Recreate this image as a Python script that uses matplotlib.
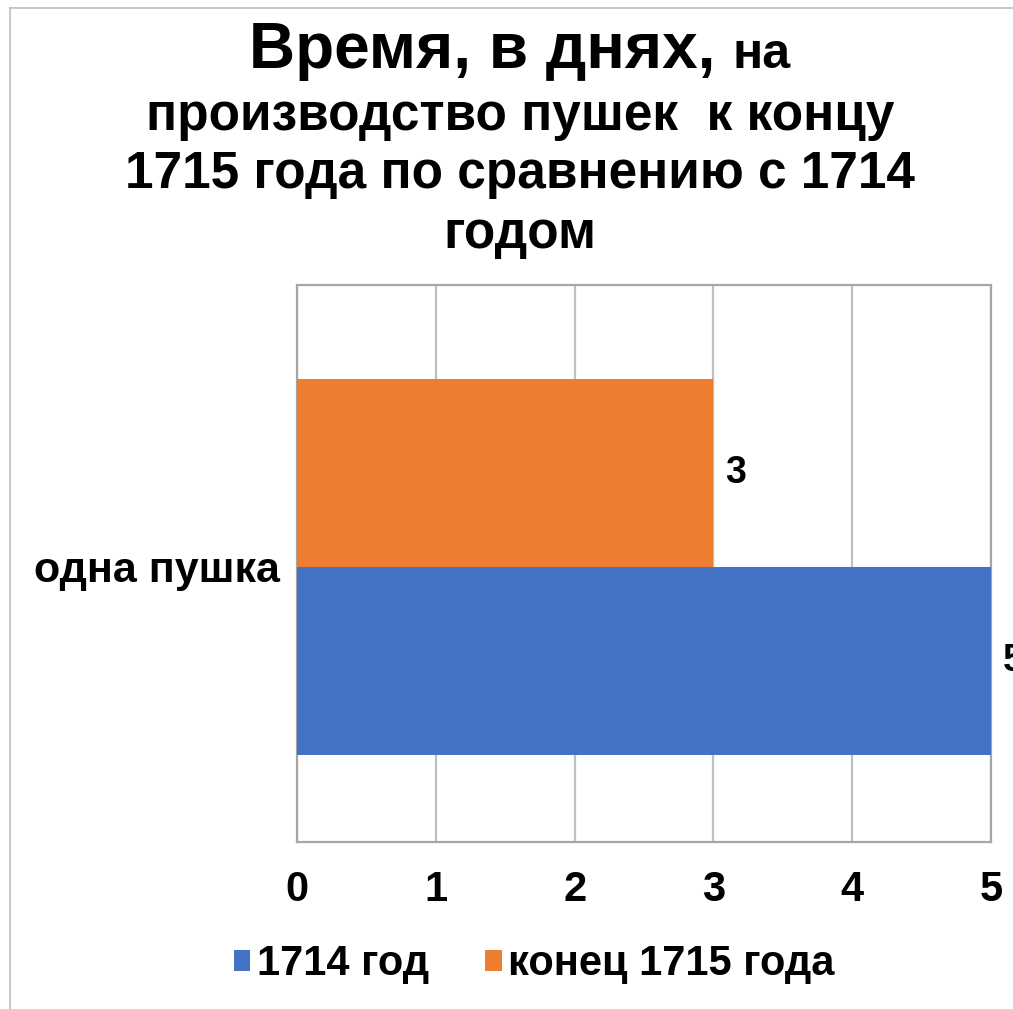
import matplotlib
matplotlib.use("Agg")
import matplotlib.pyplot as plt
from matplotlib.patches import Patch
from matplotlib.lines import Line2D

plt.rcParams['font.family'] = ['Liberation Sans', 'DejaVu Sans']

categories = ["одна пушка"]
series_names = ["1714 год", "конец 1715 года"]
values_1714 = [5]
values_1715 = [3]
x_ticks = [0, 1, 2, 3, 4, 5]
colors = ["#4472C4", "#ED7D31"]

W, H = 1013, 1009
fig = plt.figure(figsize=(W / 100, H / 100), dpi=100)

ax = fig.add_axes([297 / W, 1 - 842 / H, (991 - 297) / W, (842 - 285) / H])
bar_h = 0.3375
ax.barh([-bar_h / 2], values_1714, height=bar_h, color=colors[0], zorder=3)
ax.barh([bar_h / 2], values_1715, height=bar_h, color=colors[1], zorder=3)
ax.set_xlim(0, 5)
ax.set_ylim(-0.494, 0.506)
ax.set_xticks(x_ticks)
ax.set_xticklabels([str(t) for t in x_ticks], fontsize=30, fontweight='bold')
ax.set_yticks([0])
ax.set_yticklabels(categories, fontsize=31, fontweight='bold')
ax.tick_params(axis='both', length=0)
ax.tick_params(axis='x', pad=20)
ax.tick_params(axis='y', pad=12)
ax.grid(axis='x', color='#BFBFBF', linewidth=1.6, zorder=1)
for s in ax.spines.values():
    s.set_color('#A6A6A6')
    s.set_linewidth(1.6)

ax.text(values_1715[0] + 0.086, bar_h / 2, str(values_1715[0]), va='center', ha='left',
        fontsize=27, fontweight='bold', clip_on=False)
ax.text(values_1714[0] + 0.086, -bar_h / 2, str(values_1714[0]), va='center', ha='left',
        fontsize=27, fontweight='bold', clip_on=False)

# Legend
handles = [Patch(facecolor=c, edgecolor='none') for c in colors]
fig.legend(handles, series_names, loc='center', bbox_to_anchor=(534 / W, 1 - 964 / H),
           ncol=2, frameon=False, prop={'size': 30, 'weight': 'bold'},
           handlelength=0.4, handleheight=0.4, handletextpad=0.15, columnspacing=1.35,
           borderpad=0)

# Title
fig.canvas.draw()
renderer = fig.canvas.get_renderer()
t1 = fig.text(0, 1 - 68 / H, "Время, в днях, ", fontsize=46, fontweight='bold', ha='left', va='baseline')
t2 = fig.text(0, 1 - 68 / H, "на", fontsize=36, fontweight='bold', ha='left', va='baseline')
w1 = t1.get_window_extent(renderer).width
w2 = t2.get_window_extent(renderer).width
start = 520 - (w1 + w2) / 2
t1.set_x(start / W)
t2.set_x((start + w1) / W)
for txt, yb in [("производство пушек  к концу", 130),
                ("1715 года по сравнению с 1714", 188),
                ("годом", 248)]:
    fig.text(520 / W, 1 - yb / H, txt, fontsize=37, fontweight='bold', ha='center', va='baseline')

# Outer chart border (left and top visible)
fig.add_artist(Line2D([10 / W, 10 / W], [0, 1 - 8 / H], color='#BFBFBF', linewidth=1.2,
                      transform=fig.transFigure))
fig.add_artist(Line2D([10 / W, 1], [1 - 8 / H, 1 - 8 / H], color='#BFBFBF', linewidth=1.2,
                      transform=fig.transFigure))

fig.savefig("out.png", dpi=100)
